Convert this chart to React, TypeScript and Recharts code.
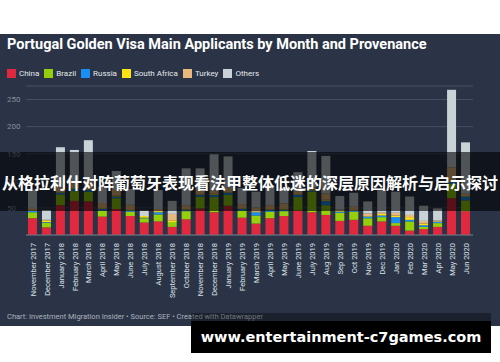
import React from 'react';
import { BarChart, Bar, XAxis, YAxis, CartesianGrid } from 'recharts';

const months = [
  'November 2017', 'December 2017', 'January 2018', 'February 2018', 'March 2018', 'April 2018',
  'May 2018', 'June 2018', 'July 2018', 'August 2018', 'September 2018', 'October 2018',
  'November 2018', 'December 2018', 'January 2019', 'February 2019', 'March 2019', 'April 2019',
  'May 2019', 'June 2019', 'July 2019', 'Aug 2019', 'Sep 2019', 'Oct 2019', 'Nov 2019',
  'Dec 2019', 'Jan 2020', 'Feb 2020', 'Mar 2020', 'Apr 2020', 'May 2020', 'Jun 2020',
];

const china = [31, 14, 55, 63, 62, 34, 48, 35, 23, 25, 15, 29, 49, 42, 54, 32, 21, 31, 35, 45, 42, 37, 26, 28, 17, 25, 17, 8, 11, 15, 68, 44];
const brazil = [11, 9, 20, 18, 18, 11, 20, 8, 8, 13, 9, 15, 22, 28, 20, 13, 15, 12, 9, 25, 38, 18, 15, 15, 14, 8, 5, 17, 4, 7, 27, 20];
const russia = [3, 1, 3, 4, 3, 3, 3, 2, 1, 4, 0, 2, 3, 4, 4, 3, 6, 3, 3, 4, 2, 8, 2, 2, 3, 3, 11, 3, 3, 2, 3, 7];
const southAfrica = [1, 3, 1, 1, 1, 1, 2, 1, 3, 2, 3, 1, 1, 2, 1, 1, 1, 1, 1, 1, 2, 2, 1, 1, 1, 3, 3, 5, 3, 1, 2, 1];
const turkey = [4, 1, 10, 10, 16, 10, 10, 10, 0, 4, 12, 8, 10, 6, 8, 8, 8, 8, 10, 6, 4, 12, 3, 6, 5, 3, 5, 4, 5, 2, 25, 4];
const others = [34, 18, 73, 61, 75, 30, 35, 29, 10, 35, 24, 68, 38, 67, 58, 30, 29, 37, 29, 35, 67, 69, 25, 26, 22, 41, 39, 34, 28, 22, 143, 95];

const seriesNames = ['China', 'Brazil', 'Russia', 'South Africa', 'Turkey', 'Others'];
const seriesColors = ['#e0293e', '#95cf0a', '#1a8ff3', '#ffe214', '#e8b97c', '#c8d2d7'];
const yTicks = [0, 50, 100, 150, 200, 250];

const seriesValues = [china, brazil, russia, southAfrica, turkey, others];

const data = months.map((m, i) => {
  const row: Record<string, string | number> = { month: m };
  seriesNames.forEach((name, s) => {
    row[name] = seriesValues[s][i];
  });
  return row;
});

const YTick = (props: any) => {
  const { y, payload } = props;
  if (payload.value === 0) return null;
  return (
    <text x={7} y={y} dy="0.35em" textAnchor="start" fontSize={8} fill="#87909d" fontFamily="Roboto">
      {payload.value}
    </text>
  );
};

const XTick = (props: any) => {
  const { x, payload } = props;
  return (
    <text
      transform={`translate(${x},243) rotate(-90)`}
      textAnchor="end"
      dy="0.35em"
      fontSize={7.5}
      fill="#dde2e8"
      fontFamily="Roboto"
    >
      {payload.value}
    </text>
  );
};

export default function App() {
  return (
    <div style={{ position: 'absolute', left: 0, top: 0, width: 500, height: 362, background: '#ffffff', overflow: 'hidden', fontFamily: 'Roboto, sans-serif' }}>
      <div style={{ position: 'absolute', left: 0, top: 34, width: 500, height: 292, background: '#2a3446' }} />
      <div style={{ position: 'absolute', left: 7, top: 36, fontSize: 14.5, fontWeight: 700, color: '#ffffff', whiteSpace: 'nowrap', lineHeight: '18px' }}>
        Portugal Golden Visa Main Applicants by Month and Provenance
      </div>
      <div style={{ position: 'absolute', left: 7, top: 69, display: 'flex', alignItems: 'center', whiteSpace: 'nowrap' }}>
        {seriesNames.map((name, i) => (
          <div key={name} style={{ display: 'flex', alignItems: 'center', marginRight: 5 }}>
            <div style={{ width: 9, height: 9, background: seriesColors[i], marginRight: 3 }} />
            <span style={{ fontSize: 8, color: '#e4e8ec', lineHeight: '9px' }}>{name}</span>
          </div>
        ))}
      </div>
      <div style={{ position: 'absolute', left: 0, top: 0 }}>
        <BarChart width={500} height={362} data={data} margin={{ top: 86, right: 27, left: 0, bottom: 0 }}>
          <CartesianGrid vertical={false} stroke="#465164" strokeWidth={1} />
          <XAxis
            dataKey="month"
            interval={0}
            height={127}
            tickLine={false}
            axisLine={{ stroke: '#6a7484' }}
            tick={<XTick />}
          />
          <YAxis
            width={26}
            domain={[0, 275]}
            ticks={yTicks}
            tickLine={false}
            axisLine={false}
            tick={<YTick />}
          />
          {seriesNames.map((name, i) => (
            <Bar key={name} dataKey={name} stackId="a" fill={seriesColors[i]} barSize={9} isAnimationActive={false} />
          ))}
        </BarChart>
      </div>
      <div style={{ position: 'absolute', left: 7, top: 312, fontSize: 7.5, color: '#aab2bd', whiteSpace: 'nowrap', lineHeight: '10px' }}>
        Chart: Investment Migration Insider • Source: SEF • Created with Datawrapper
      </div>
      <div style={{ position: 'absolute', left: 0, top: 152, width: 500, height: 59, background: 'rgba(0,0,0,0.6)', display: 'flex', alignItems: 'center', justifyContent: 'center' }}>
        <span style={{ fontFamily: '"Noto Sans CJK SC", sans-serif', fontWeight: 700, fontSize: 16, color: '#ffffff', whiteSpace: 'nowrap' }}>
          从格拉利什对阵葡萄牙表现看法甲整体低迷的深层原因解析与启示探讨
        </span>
      </div>
      <div style={{ position: 'absolute', left: 191, top: 313, width: 300, height: 8, background: 'rgba(0,0,0,0.35)' }} />
      <div style={{ position: 'absolute', left: 191, top: 321, width: 300, height: 32, background: '#000000', display: 'flex', alignItems: 'center', justifyContent: 'center' }}>
        <span style={{ fontFamily: '"DejaVu Sans", sans-serif', fontWeight: 700, fontSize: 14.5, color: '#ffffff', whiteSpace: 'nowrap' }}>
          www.entertainment-c7games.com
        </span>
      </div>
    </div>
  );
}
